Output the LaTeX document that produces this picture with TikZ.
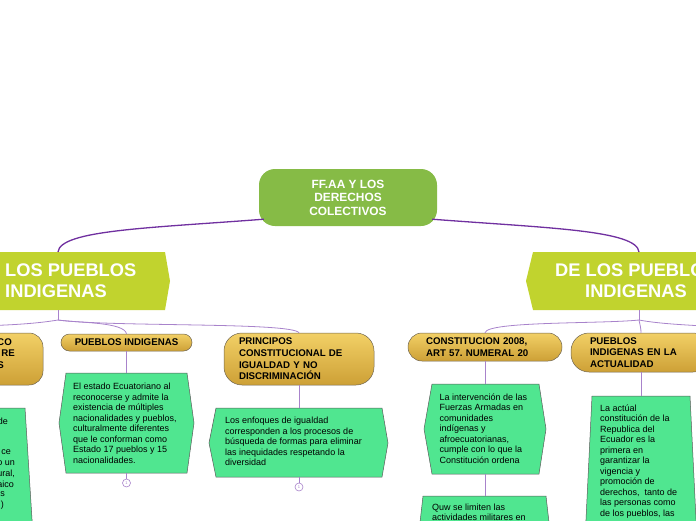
\documentclass[tikz,border=0pt]{standalone}
\usepackage{fontspec}
\setmainfont{Liberation Sans}
\frenchspacing
\definecolor{rootg}{HTML}{86BB46}
\definecolor{limeg}{HTML}{C1D32E}
\definecolor{hexg}{HTML}{50E690}
\definecolor{hexb}{HTML}{5A5A5A}
\definecolor{goldt}{HTML}{F2D066}
\definecolor{goldb}{HTML}{CDA036}
\definecolor{goldd}{HTML}{6E6450}
\definecolor{purm}{HTML}{7030A0}
\definecolor{purl}{HTML}{A883CB}
\begin{document}
\begin{tikzpicture}[x=1pt,y=-1pt,
  rootbox/.style={fill=rootg, rounded corners=16pt, text=white,
    font=\bfseries\fontsize{11.9}{13.4}\selectfont, align=center,
    minimum width=178pt, minimum height=57pt, inner sep=0pt},
  maintext/.style={text=white, font=\bfseries\fontsize{18.3}{21}\selectfont, inner sep=0pt},
  goldbox/.style={draw=goldd, line width=0.5pt, top color=goldt, bottom color=goldb,
    inner sep=0pt, font=\bfseries\fontsize{9.7}{11.6}\selectfont, align=left},
  goldfrag/.style={font=\bfseries\fontsize{9.7}{11.6}\selectfont, inner sep=0pt},
  hexshape/.style={fill=hexg, draw=hexb, line width=0.5pt},
  hextext/.style={font=\fontsize{9}{10.5}\selectfont, align=left, inner sep=0pt},
  mainline/.style={draw=purm, line width=1.3pt},
  subline/.style={draw=purl, line width=0.8pt},
  numcirc/.style={circle, draw=purl, fill=white, line width=0.6pt, minimum size=8pt,
    inner sep=0pt, text=purl, font=\fontsize{4}{4}\selectfont}
]
\useasboundingbox (0,0) rectangle (696,520);
\clip (0,0) rectangle (696,520);

% root
\node[rootbox] (root) at (348,197.5) {FF.AA Y LOS\\DERECHOS\\COLECTIVOS};
\coordinate (rl) at ([xshift=5pt,yshift=7pt]root.south west);
\coordinate (rr) at ([xshift=-5pt,yshift=7pt]root.south east);

% main left
\fill[limeg] (-5,252) -- (165,252) -- (170,281) -- (165,310) -- (-5,310) -- cycle;
\node[maintext, anchor=west, align=left] (lm) at (5,281) {LOS PUEBLOS\\INDIGENAS};
\coordinate (lmt) at (58,252);
\coordinate (lmb) at (58,310);
\coordinate (b1) at (58,320);

% main right
\fill[limeg] (705,252) -- (533,252) -- (526,281) -- (533,310) -- (705,310) -- cycle;
\node[maintext, align=center] (rm) at (636,281) {DE LOS PUEBLOS\\INDIGENAS};
\coordinate (rmt) at (639,252);
\coordinate (rmb) at (639,310);
\coordinate (b2) at (639,320);

% main connectors
\draw[mainline] (rl) .. controls (150,228) and (60,230) .. (lmt);
\draw[mainline] (rr) .. controls (546,228) and (637,230) .. (rmt);

% gold nodes
\node[goldbox, rounded corners=14pt, minimum width=100pt, minimum height=52pt] (lg) at (-7,359) {};
\node[goldfrag, anchor=east] (lgf1) at (12,342) {CO};
\node[goldfrag, anchor=east] (lgf2) at (15,353.5) {RE};
\node[goldfrag, anchor=east] (lgf3) at (4,365) {S};
\coordinate (lgt) at (-6,325.5);

\node[goldbox, rounded corners=8.5pt, minimum width=131pt, minimum height=17pt, align=center] (pi) at (126.5,342.5) {PUEBLOS INDIGENAS};
\node[goldbox, rounded corners=18pt, minimum width=150pt, minimum height=52pt, text width=120pt] (pr) at (299,359) {PRINCIPOS\\CONSTITUCIONAL DE\\IGUALDAD Y NO\\DISCRIMINACIÓN};
\node[goldbox, rounded corners=14pt, minimum width=154pt, minimum height=28pt, text width=118pt] (co) at (485,347) {CONSTITUCION 2008,\\ART 57. NUMERAL 20};
\node[goldbox, rounded corners=18pt, minimum width=140pt, minimum height=39pt, text width=102pt] (ac) at (641,352.5) {PUEBLOS\\INDIGENAS EN LA\\ACTUALIDAD};
\coordinate (rt) at (702,326);

% branch connectors
\draw[subline] (lmb) -- (b1);
\draw[subline] (b1) .. controls (40,323) and (20,324.5) .. (lgt);
\draw[subline] (b1) .. controls (80,323) and (124,322) .. (pi.north);
\draw[subline] (b1) .. controls (110,327) and (292,322) .. (pr.north);
\draw[subline] (rmb) -- (b2);
\draw[subline] (b2) .. controls (600,324) and (487,321) .. (co.north);
\draw[subline] (b2) .. controls (640,325) and (641,328) .. (ac.north);
\draw[subline] (b2) .. controls (660,324) and (690,325) .. (rt);

% left partial hexagon
\fill[hexshape] (-20,408) -- (25,408) -- (33,535) -- (-20,535) -- cycle;
\node[hextext, anchor=east] (lh1) at (8,421) {de};
\node[hextext, anchor=east] (lh2) at (11,452.5) {ce};
\node[hextext, anchor=east] (lh3) at (15,463) {o un};
\node[hextext, anchor=east] (lh4) at (15,473.5) {ural,};
\node[hextext, anchor=east] (lh5) at (14,484) {aico};
\node[hextext, anchor=east] (lh6) at (5,494.5) {s};
\node[hextext, anchor=east] (lh7) at (4,505) {)};

% hexagon 1
\filldraw[hexshape] (66,373) -- (187,373) -- (194,423) -- (187,473) -- (66,473) -- (59,423) -- cycle;
\coordinate (h1t) at (126.5,373);
\coordinate (h1b) at (126.5,473);
\node[hextext, anchor=west] (h1) at (73,423.3) {El estado Ecuatoriano al\\reconocerse y admite la\\existencia de múltiples\\nacionalidades y pueblos,\\culturalmente diferentes\\que le conforman como\\Estado 17 pueblos y 15\\nacionalidades.};
\node[numcirc] (c1) at (126.5,483) {1};
\draw[subline] (pi.south) -- (h1t);
\draw[subline] (h1b) -- (c1.north);

% hexagon 2
\filldraw[hexshape] (216,408) -- (382,408) -- (388,443) -- (382,477) -- (216,477) -- (209,443) -- cycle;
\coordinate (h2t) at (299,408);
\coordinate (h2b) at (299,477);
\node[hextext, anchor=west] (h2) at (225,441.3) {Los enfoques de igualdad\\corresponden a los procesos de\\búsqueda de formas para eliminar\\las inequidades respetando la\\diversidad};
\node[numcirc] (c2) at (299,487) {1};
\draw[subline] (pr.south) -- (h2t);
\draw[subline] (h2b) -- (c2.north);

% hexagon 3
\filldraw[hexshape] (432,384) -- (539,384) -- (546,429) -- (539,474) -- (432,474) -- (424,429) -- cycle;
\coordinate (h3t) at (485,384);
\coordinate (h3b) at (485,474);
\node[hextext, anchor=west] (h3) at (439.5,428.5) {La intervención de las\\Fuerzas Armadas en\\comunidades\\indígenas y\\afroecuatorianas,\\cumple con lo que la\\Constitución ordena};
\draw[subline] (co.south) -- (h3t);

% hexagon 4
\filldraw[hexshape] (423,496) -- (546,496) -- (551,540) -- (418,540) -- cycle;
\coordinate (h4t) at (485,496);
\node[hextext, anchor=north west] (h4) at (432,503.5) {Quw se limiten las\\actividades militares en};
\draw[subline] (h3b) -- (h4t);

% hexagon 5
\filldraw[hexshape] (592,396) -- (690,396) -- (697,540) -- (585,540) -- cycle;
\coordinate (h5t) at (641,396);
\node[hextext, anchor=west] (h5) at (600,461.5) {La actúal\\constitución de la\\Republica del\\Ecuador es la\\primera en\\garantizar la\\vigencia y\\promoción de\\derechos,\ \ tanto de\\las personas como\\de los pueblos, las};
\draw[subline] (ac.south) -- (h5t);
\end{tikzpicture}
\end{document}
